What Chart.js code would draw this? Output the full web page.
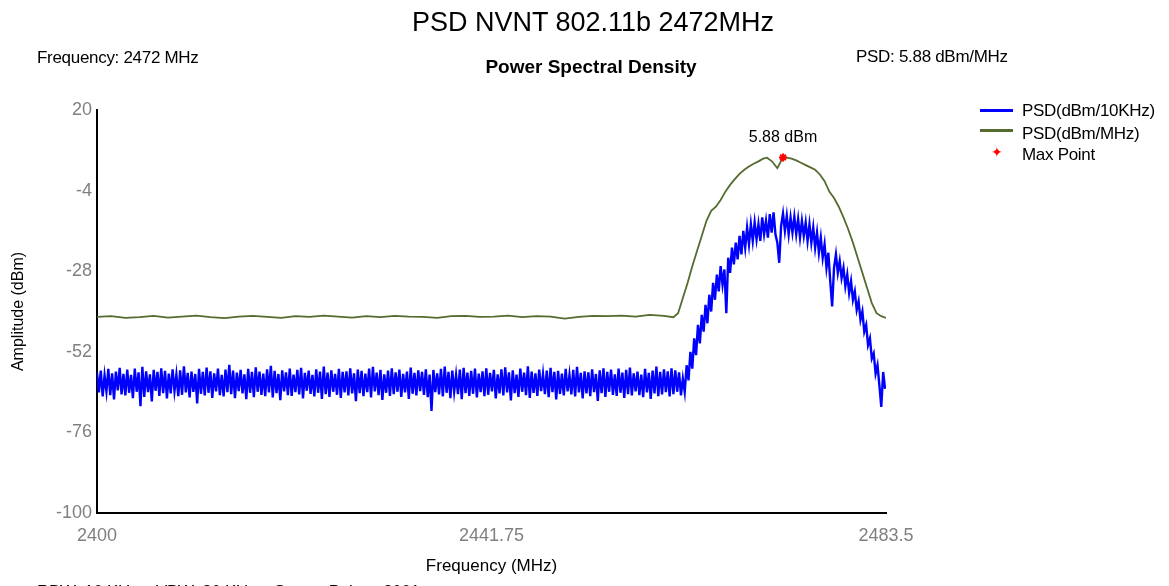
<!DOCTYPE html>
<html>
<head>
<meta charset="utf-8">
<title>PSD NVNT 802.11b 2472MHz</title>
<script src="https://cdn.jsdelivr.net/npm/chart.js@4.4.0/dist/chart.umd.min.js"></script>
<style>
html, body { margin: 0; padding: 0; background: #fff; overflow: hidden; }
#wrap { position: relative; width: 1169px; height: 586px; overflow: hidden; font-family: Arial, "Liberation Sans", sans-serif; }
#wrap canvas { position: absolute; left: 0; top: 0; }
.txt { position: absolute; white-space: pre; line-height: 1; color: #000; }
.small { font-size: 17px; letter-spacing: -0.3px; }
.swatch { position: absolute; width: 33px; height: 3px; }
</style>
</head>
<body>
<div id="wrap">
  <canvas id="psd-chart" width="1169" height="586"></canvas>
  <div class="txt" style="font-size:27px; top:9px; left:593px; transform:translateX(-50%);">PSD NVNT 802.11b 2472MHz</div>
  <div class="txt small" style="top:49px; left:37px;">Frequency: 2472 MHz</div>
  <div class="txt" style="font-size:19px; font-weight:bold; top:57px; left:591px; transform:translateX(-50%);">Power Spectral Density</div>
  <div class="txt small" style="top:48px; left:856px;">PSD: 5.88 dBm/MHz</div>

  <!-- legend -->
  <div class="swatch" style="left:980px; top:109px; background:#0000ff;"></div>
  <div class="txt small" style="top:102px; left:1022px;">PSD(dBm/10KHz)</div>
  <div class="swatch" style="left:980px; top:129px; background:#556b2f;"></div>
  <div class="txt small" style="top:125px; left:1022px;">PSD(dBm/MHz)</div>
  <div class="txt" style="top:145px; left:991px; font-size:14px; color:#ff0000; font-family:'DejaVu Sans';">✦</div>
  <div class="txt small" style="top:146px; left:1022px;">Max Point</div>

  <div class="txt small" style="top:583px; left:37px;">RBW: 10 KHz    VBW: 30 KHz    Sweep Points: 8001</div>
</div>
<script>
// Sweep grid of the 10 kHz trace (frequency axis, MHz)
const sweepStart = 2400;
const sweepStep = 0.2;

// PSD(dBm/10KHz) noise floor, 2400.0 - 2461.8 MHz
const noiseFloor = [
  -58.2,-64.1,-57.6,-65.3,-59.0,-63.8,-57.1,-64.9,-58.4,-66.2,-57.9,-63.5,-56.8,-64.7,-58.6,-65.0,-57.3,-64.2,-58.9,-65.8,
  -57.0,-63.9,-58.1,-68.2,-56.5,-65.4,-57.8,-64.0,-58.7,-66.8,-57.4,-63.6,-58.0,-65.1,-56.9,-64.3,-57.7,-65.9,-58.5,-64.4,
  -57.2,-63.7,-58.8,-65.2,-57.5,-64.8,-56.3,-64.1,-58.3,-65.6,-57.9,-63.9,-58.6,-67.4,-57.1,-64.5,-58.0,-65.0,-56.7,-64.2,
  -57.8,-65.7,-58.4,-63.8,-57.0,-64.9,-58.9,-65.3,-57.3,-64.0,-55.9,-64.6,-57.6,-65.8,-58.2,-63.7,-57.4,-64.4,-58.7,-66.1,
  -57.1,-64.2,-58.0,-65.5,-56.6,-63.9,-57.9,-64.8,-58.5,-65.2,-57.2,-64.1,-56.2,-65.6,-57.7,-64.3,-58.6,-66.4,-57.5,-63.8,
  -58.1,-64.9,-57.0,-65.1,-58.8,-64.0,-57.4,-64.7,-56.8,-65.9,-58.3,-63.6,-57.6,-64.5,-58.9,-65.3,-57.2,-64.2,-57.9,-66.0,
  -56.4,-64.6,-58.2,-65.4,-57.5,-63.9,-58.6,-64.8,-57.1,-65.7,-58.0,-64.1,-57.8,-65.0,-56.9,-64.4,-58.4,-66.7,-57.3,-64.3,
  -57.7,-65.2,-58.5,-64.0,-57.0,-65.6,-56.5,-63.8,-58.2,-64.9,-57.4,-66.3,-58.7,-64.2,-57.6,-65.1,-56.9,-64.6,-58.1,-63.9,
  -57.3,-65.4,-58.6,-64.1,-57.9,-66.0,-56.7,-64.5,-58.3,-65.0,-57.5,-63.7,-58.0,-64.8,-57.2,-65.5,-58.8,-69.6,-57.4,-64.0,
  -58.4,-64.7,-57.1,-65.3,-56.4,-64.2,-58.0,-65.8,-57.6,-63.9,-58.9,-64.6,-57.3,-66.1,-56.8,-64.3,-58.2,-65.1,-57.7,-64.5,
  -57.0,-65.6,-58.5,-64.0,-57.8,-65.2,-56.9,-64.8,-58.3,-63.8,-57.4,-65.9,-58.7,-64.4,-57.2,-65.0,-56.6,-64.1,-58.1,-66.5,
  -57.5,-64.3,-58.8,-65.4,-57.0,-63.9,-58.2,-64.9,-56.3,-65.7,-57.9,-64.2,-58.4,-65.1,-57.3,-63.7,-58.6,-64.6,-57.6,-65.5,
  -56.8,-64.0,-58.0,-66.2,-57.7,-64.5,-58.5,-65.0,-57.1,-63.8,-58.9,-64.7,-57.4,-65.3,-56.5,-64.1,-58.3,-65.9,-57.8,-64.4,
  -58.1,-65.2,-57.2,-64.0,-58.6,-66.6,-57.5,-64.3,-56.9,-65.4,-58.0,-63.9,-57.3,-64.8,-58.7,-65.1,-57.0,-64.2,-58.2,-65.7,
  -57.4,-64.6,-56.7,-65.0,-58.4,-63.8,-57.9,-64.9,-58.8,-65.5,-57.1,-64.1,-58.3,-66.0,-57.6,-64.4,-56.4,-65.2,-58.0,-64.7,
  -57.2,-64.0,-57.8,-65.3,-56.9,-64.6,-57.5,-63.9,-58.1,-65.0
];

// PSD(dBm/10KHz) signal, 2462.0 - 2483.4 MHz
const signalBand = [
  -60.0,-64.0,-56.0,-60.5,-52.0,-57.0,-48.0,-53.0,-44.0,-49.5,
  -41.0,-46.0,-38.0,-43.5,-35.0,-40.0,-31.5,-36.5,-29.0,-34.0,
  -26.5,-32.0,-27.5,-40.5,-24.0,-28.5,-21.0,-26.0,-19.5,-24.5,
  -17.5,-23.0,-16.0,-21.0,-15.0,-20.0,-14.0,-19.0,-13.5,-18.5,
  -14.0,-19.0,-12.0,-17.0,-13.0,-18.0,-11.0,-16.5,-10.5,-17.0,
  -19.5,-25.5,-14.5,-10.8,-16.0,-11.5,-17.0,-12.0,-16.5,-11.8,
  -17.0,-12.5,-18.0,-13.0,-17.5,-13.5,-19.0,-14.0,-19.5,-15.0,
  -21.0,-16.5,-22.5,-18.0,-24.0,-20.0,-27.0,-22.5,-31.0,-38.5,
  -27.0,-23.0,-28.5,-25.0,-30.0,-27.0,-32.5,-29.0,-34.5,-31.0,
  -36.5,-34.0,-39.5,-37.0,-42.5,-40.0,-46.0,-44.0,-50.0,-48.0,
  -54.0,-52.5,-58.5,-56.0,-62.0,-68.4,-58.0,-63.0
];

// PSD(dBm/MHz) trace
const mhzFreq = [
  2400, 2401.5, 2403, 2404.5, 2406, 2407.5, 2409, 2410.5, 2412, 2413.5,
  2415, 2416.5, 2418, 2419.5, 2421, 2422.5, 2424, 2425.5, 2427, 2428.5,
  2430, 2431.5, 2433, 2434.5, 2436, 2437.5, 2439, 2440.5, 2442, 2443.5,
  2445, 2446.5, 2448, 2449.5, 2451, 2452.5, 2454, 2455.5, 2457, 2458.5,
  2460, 2461, 2461.5, 2462, 2462.5, 2463, 2463.5, 2464, 2464.5, 2465,
  2465.5, 2466, 2466.5, 2467, 2467.5, 2468, 2468.5, 2469, 2469.5, 2470,
  2470.5, 2470.9, 2471.4, 2472.0, 2472.6, 2473, 2473.5, 2474, 2474.5, 2475,
  2475.5, 2476, 2476.5, 2477, 2477.5, 2478, 2478.5, 2479, 2479.5, 2480,
  2480.5, 2481, 2481.5, 2482, 2482.5, 2483, 2483.5
];
const mhzPsd = [
  -41.6, -41.4, -41.9, -41.7, -41.3, -41.8, -41.5, -41.2, -41.7, -42.0,
  -41.5, -41.3, -41.6, -41.9, -41.4, -41.6, -41.2, -41.5, -41.8, -41.4,
  -41.7, -41.3, -41.5, -41.6, -41.9, -41.4, -41.3, -41.6, -41.5, -41.2,
  -41.7, -41.4, -41.5, -42.1, -41.6, -41.3, -41.4, -41.2, -41.5, -41.0,
  -41.3, -41.7, -40.5, -36.0, -31.5, -26.5, -22.0, -17.5, -13.0, -10.0,
  -8.8, -6.8, -4.3, -2.3, -0.6, 1.0, 2.2, 3.2, 4.0, 4.7,
  5.5, 5.8, 4.8, 2.7, 5.88, 5.8, 5.5, 5.0, 4.3, 3.6,
  2.9, 2.2, 0.8, -1.2, -4.3, -6.2, -8.8, -12.0, -15.5, -19.5,
  -24.0, -28.5, -33.0, -37.5, -40.5, -41.4, -41.9
];

// Max point marker
const maxFreq = 2472.6;
const maxPsd = 5.88;
const peakText = '5.88 dBm';

// Tick labels
const xTicks = [2400, 2441.75, 2483.5];
const yTicks = [-100, -76, -52, -28, -4, 20];

const fontFamily = 'Arial, "Liberation Sans", sans-serif';

const kHzTrace = noiseFloor.concat(signalBand).map((v, i) => ({
    x: Math.round((sweepStart + i * sweepStep) * 10) / 10,
    y: v
}));
const mhzTrace = mhzFreq.map((f, i) => ({ x: f, y: mhzPsd[i] }));

// "5.88 dBm" text above the max point
const peakLabel = {
    id: 'peakLabel',
    afterDatasetsDraw(chart) {
        const pt = chart.getDatasetMeta(0).data[0];
        if (!pt) return;
        const ctx = chart.ctx;
        ctx.save();
        ctx.font = '16px ' + fontFamily;
        ctx.fillStyle = '#000';
        ctx.textAlign = 'center';
        ctx.textBaseline = 'alphabetic';
        ctx.fillText(peakText, pt.x, pt.y - 15);
        ctx.restore();
    }
};

new Chart(document.getElementById('psd-chart'), {
    type: 'line',
    data: {
        datasets: [
            {
                label: 'Max Point',
                data: [{ x: maxFreq, y: maxPsd }],
                showLine: false,
                pointStyle: 'star',
                pointRadius: 4,
                borderColor: '#ff0000',
                backgroundColor: '#ff0000',
                pointBorderWidth: 2,
                order: 0
            },
            {
                label: 'PSD(dBm/MHz)',
                data: mhzTrace,
                borderColor: '#556b2f',
                borderWidth: 1.8,
                pointRadius: 0,
                tension: 0,
                order: 1
            },
            {
                label: 'PSD(dBm/10KHz)',
                data: kHzTrace,
                borderColor: '#0000ff',
                borderWidth: 2.4,
                pointRadius: 0,
                tension: 0,
                order: 2
            }
        ]
    },
    options: {
        responsive: false,
        animation: false,
        layout: { padding: { left: 0, top: 110, right: 283, bottom: 0 } },
        plugins: {
            legend: { display: false },
            title: { display: false },
            tooltip: { enabled: false }
        },
        scales: {
            x: {
                type: 'linear',
                min: 2400,
                max: 2483.5,
                afterBuildTicks: s => { s.ticks = xTicks.map(v => ({ value: v })); },
                afterFit: s => { s.height = 73; },
                grid: { display: false, drawTicks: false },
                border: { display: true, color: '#000', width: 2 },
                ticks: {
                    autoSkip: false,
                    maxRotation: 0,
                    color: '#808080',
                    padding: 12,
                    font: { size: 18, family: fontFamily },
                    callback: v => String(v)
                },
                title: {
                    display: true,
                    text: 'Frequency (MHz)',
                    color: '#000',
                    font: { size: 17, family: fontFamily },
                    padding: { top: 0, bottom: 9 }
                }
            },
            y: {
                min: -100,
                max: 20,
                afterBuildTicks: s => { s.ticks = yTicks.map(v => ({ value: v })); },
                afterFit: s => { s.width = 97; },
                grid: { display: false, drawTicks: false },
                border: { display: true, color: '#000', width: 2 },
                ticks: {
                    color: '#808080',
                    padding: 5,
                    font: { size: 18, family: fontFamily },
                    callback: v => String(v)
                },
                title: {
                    display: true,
                    text: 'Amplitude (dBm)',
                    color: '#000',
                    font: { size: 16, family: fontFamily },
                    padding: { top: 9, bottom: 0 }
                }
            }
        }
    },
    plugins: [peakLabel]
});
</script>
</body>
</html>
